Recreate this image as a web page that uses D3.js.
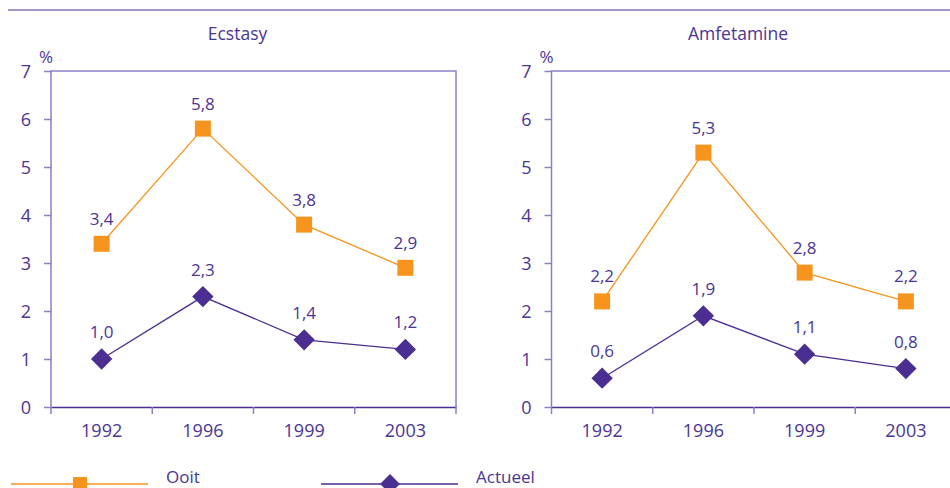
<!DOCTYPE html>
<html><head><meta charset="utf-8">
<script src="https://cdn.jsdelivr.net/npm/d3@7"></script>
<style>body{margin:0;background:#fff}svg{display:block}text{font-family:"Open Sans",sans-serif;fill:#4a3594}</style>
</head><body><svg id="c" width="950" height="488"></svg>
<script>
const years = ["1992","1996","1999","2003"];
const panels = ["Ecstasy","Amfetamine"];
const ooitEcstasy = [3.4,5.8,3.8,2.9];
const actueelEcstasy = [1.0,2.3,1.4,1.2];
const ooitAmfetamine = [2.2,5.3,2.8,2.2];
const actueelAmfetamine = [0.6,1.9,1.1,0.8];
const yTicks = [0,1,2,3,4,5,6,7];
const seriesNames = ["Ooit","Actueel"];

const orange="#f7941d", purple="#4b2e91", axisC="#8c80c4", textC="#4a3594";
const svg=d3.select("#c");
svg.append("line").attr("x1",8).attr("x2",950).attr("y1",10).attr("y2",10).attr("stroke",purple).attr("stroke-width",1.2);

const data=[[ooitEcstasy,actueelEcstasy],[ooitAmfetamine,actueelAmfetamine]];
const lefts=[51,551.5];
const fmt=v=>d3.format(".1f")(v).replace(".",",");
panels.forEach((name,i)=>{
  const x0=lefts[i], x1=x0+405;
  const g=svg.append("g");
  const x=d3.scaleBand().domain(years).range([x0,x1]);
  const y=d3.scaleLinear().domain([0,7]).range([407,71]);
  g.append("text").attr("x",(x0+x1)/2-16).attr("y",40).attr("text-anchor","middle").attr("font-size",17.5).text(name);
  g.append("text").attr("x",x0-5).attr("y",63).attr("text-anchor","middle").attr("font-size",17).text("%");
  g.append("path").attr("d",`M${x0},407V71H${x1}V407`).attr("fill","none").attr("stroke",axisC).attr("stroke-width",1.5);
  const ya=g.append("g").attr("transform",`translate(${x0},0)`).call(d3.axisLeft(y).tickValues(yTicks).tickFormat(d3.format("d")).tickSize(7).tickPadding(13));
  ya.select(".domain").remove();
  ya.selectAll("line").attr("stroke",axisC).attr("stroke-width",1.5);
  ya.selectAll("text").attr("font-size",18).attr("fill",textC).attr("font-family","Open Sans").attr("dy","0.35em");
  const xa=g.append("g").attr("transform","translate(0,407)").call(d3.axisBottom(x).tickSize(0).tickPadding(17));
  xa.select(".domain").attr("stroke",purple).attr("stroke-width",1.5);
  xa.selectAll("text").attr("font-size",18).attr("fill",textC).attr("font-family","Open Sans");
  g.selectAll(".bt").data(years.concat(["end"])).enter().append("line")
    .attr("x1",(d,k)=>x0+k*x.bandwidth()).attr("x2",(d,k)=>x0+k*x.bandwidth())
    .attr("y1",407).attr("y2",414).attr("stroke",axisC).attr("stroke-width",1.5);
  const cx=d=>x(d)+x.bandwidth()/2;
  const line=d3.line().x((d,k)=>cx(years[k])).y(d=>y(d));
  const [oo,ac]=data[i];
  g.append("path").attr("d",line(oo)).attr("fill","none").attr("stroke",orange).attr("stroke-width",1.3);
  g.append("path").attr("d",line(ac)).attr("fill","none").attr("stroke",purple).attr("stroke-width",1.3);
  g.selectAll(".sq").data(oo).enter().append("rect")
    .attr("x",(d,k)=>cx(years[k])-8).attr("y",d=>y(d)-8).attr("width",16).attr("height",16).attr("fill",orange);
  g.selectAll(".dm").data(ac).enter().append("path")
    .attr("d",d3.symbol(d3.symbolDiamond2,290)()).attr("transform",(d,k)=>`translate(${cx(years[k])},${y(d)})`).attr("fill",purple);
  g.selectAll(".lo").data(oo).enter().append("text").attr("x",(d,k)=>cx(years[k])).attr("y",d=>y(d)-19)
    .attr("text-anchor","middle").attr("font-size",17).text(fmt);
  g.selectAll(".la").data(ac).enter().append("text").attr("x",(d,k)=>cx(years[k])).attr("y",d=>y(d)-21)
    .attr("text-anchor","middle").attr("font-size",17).text(fmt);
});
const lg=svg.append("g");
const leg=[{n:seriesNames[0],c:orange,x:11,shape:"sq"},{n:seriesNames[1],c:purple,x:321,shape:"dm"}];
leg.forEach(l=>{
  lg.append("line").attr("x1",l.x).attr("x2",l.x+137).attr("y1",484).attr("y2",484).attr("stroke",l.c).attr("stroke-width",1.3);
  if(l.shape==="sq") lg.append("rect").attr("x",l.x+62).attr("y",477).attr("width",14).attr("height",14).attr("fill",l.c);
  else lg.append("path").attr("d",d3.symbol(d3.symbolDiamond2,250)()).attr("transform",`translate(${l.x+69},484)`).attr("fill",l.c);
  lg.append("text").attr("x",l.x+155).attr("y",483).attr("font-size",17).text(l.n);
});
</script></body></html>
